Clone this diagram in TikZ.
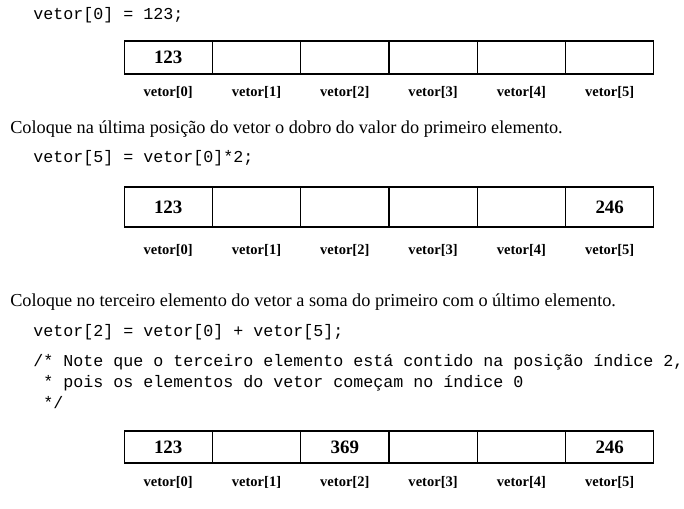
\documentclass[tikz,border=0pt]{standalone}
\usepackage{fontspec}
\setmainfont{Liberation Serif}
\setmonofont{Liberation Mono}
\usepackage{tikz}
\usetikzlibrary{positioning}
\tikzstyle{cell}=[draw,rectangle,line width=0.8pt,minimum width=66.2pt,inner sep=0pt,font=\fontsize{14.2}{16}\selectfont\bfseries]
\tikzstyle{index}=[inner sep=0pt,font=\fontsize{10.9}{12}\selectfont\bfseries]
\tikzstyle{code}=[anchor=base west,inner sep=0pt,align=left,font=\fontsize{12.5}{15.4}\selectfont\ttfamily]
\tikzstyle{prose}=[anchor=base west,inner sep=0pt,font=\fontsize{13.7}{16}\selectfont]

\begin{document}
\begin{tikzpicture}[x=0.75pt,y=-0.75pt]
        \useasboundingbox (0,0) rectangle (684,508);
        % first assignment
        \node[code] (code0) at (33,19) {vetor[0] = 123;};
        \foreach \v [count=\i from 0] in {123,{},{},{},{},{}} {
          \node[cell,minimum height=24.75pt] (a\i) at (168.2+88.3*\i,57.5) {\v};
          \node[index] (ia\i) at (168.2+88.3*\i,92) {vetor[\i]};
        }
        % double of the first element
        \node[prose] (txt1) at (10,133) {Coloque na última posição do vetor o dobro do valor do primeiro elemento.};
        \node[code] (code1) at (33,162) {vetor[5] = vetor[0]*2;};
        \foreach \v [count=\i from 0] in {123,{},{},{},{},246} {
          \node[cell,minimum height=30pt] (b\i) at (168.2+88.3*\i,207) {\v};
          \node[index] (ib\i) at (168.2+88.3*\i,250) {vetor[\i]};
        }
        % sum of first and last
        \node[prose] (txt2) at (10,306) {Coloque no terceiro elemento do vetor a soma do primeiro com o último elemento.};
        \node[code] (code2) at (33,336) {vetor[2] = vetor[0] + vetor[5];};
        \node[code] (note) at (33,408) {/* Note que o terceiro elemento está contido na posição índice 2,\\
          \hphantom{/}* pois os elementos do vetor começam no índice 0\\
          \hphantom{/}*/};
        \foreach \v [count=\i from 0] in {123,{},369,{},{},246} {
          \node[cell,minimum height=24pt] (c\i) at (168.2+88.3*\i,447) {\v};
          \node[index] (ic\i) at (168.2+88.3*\i,482) {vetor[\i]};
        }
      \end{tikzpicture}
\end{document}
